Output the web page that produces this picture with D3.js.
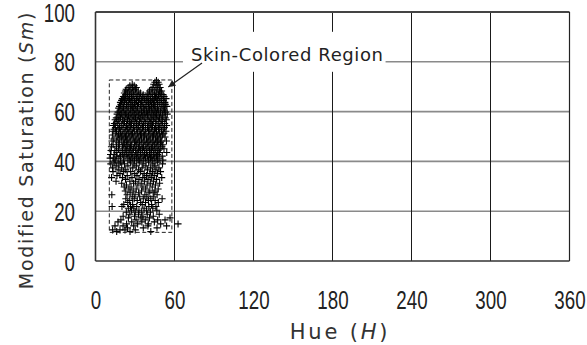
<!DOCTYPE html>
<html>
<head>
<meta charset="utf-8">
<script src="https://cdn.jsdelivr.net/npm/d3@7"></script>
<style>
  html, body { margin: 0; padding: 0; background: #fff; }
  svg { display: block; }
</style>
</head>
<body>
<svg id="chart" width="587" height="345"></svg>
<script>
// axis ticks
const hueTicks = [0, 60, 120, 180, 240, 300, 360];
const satTicks = [0, 20, 40, 60, 80, 100];

// skin-colored region bounds (H, Sm)
const regionHue = [10.5, 58];
const regionSat = [11.5, 72.7];

// measured samples, grouped by Sm level: [Sm, [H values]]
const sampleRows = [
  [72.5, [46.3]],
  [71.8, [45.1, 47.6]],
  [71.0, [27.9, 44.2, 48.3]],
  [70.4, [26.1, 29.4, 46.8]],
  [69.7, [24.8, 28.2, 31.0, 43.5, 45.9, 49.1]],
  [69.0, [23.3, 26.9, 30.3, 42.2, 47.4]],
  [68.3, [22.7, 25.6, 29.1, 32.4, 41.0, 44.6, 48.7, 50.2]],
  [67.5, [21.9, 24.4, 27.6, 30.8, 34.1, 39.7, 43.1, 46.2, 49.6]],
  [66.8, [22.9, 26.0, 28.7, 33.0, 36.2, 40.6, 44.9, 47.8, 51.3]],
  [66.0, [21.2, 24.1, 27.3, 31.7, 35.5, 38.4, 42.0, 45.6, 48.9, 52.1]],
  [65.2, [20.4, 23.0, 25.8, 29.9, 33.6, 37.1, 39.8, 43.4, 46.5, 50.0, 53.6]],
  [64.5, [19.8, 22.1, 24.9, 28.3, 31.2, 34.8, 38.9, 41.7, 44.3, 47.2, 51.5]],
  [63.7, [18.9, 21.6, 26.4, 29.6, 32.7, 36.0, 40.2, 42.8, 45.0, 48.4, 52.7]],
  [62.9, [19.3, 23.5, 27.1, 30.6, 34.3, 37.7, 41.3, 44.1, 46.9, 49.8, 53.0]],
  [62.1, [18.2, 20.8, 24.6, 28.0, 31.9, 35.2, 39.0, 42.5, 45.3, 50.6, 54.2]],
  [61.4, [17.6, 21.3, 25.3, 29.0, 32.1, 36.6, 40.4, 43.7, 47.1, 51.8]],
  [60.6, [18.7, 22.4, 26.7, 30.1, 33.8, 37.4, 41.1, 44.6, 48.0, 52.4]],
  [59.8, [17.1, 20.1, 23.8, 27.8, 31.4, 35.0, 38.6, 42.3, 45.8, 49.3, 53.3]],
  [59.0, [16.4, 19.5, 22.9, 26.2, 29.8, 33.1, 36.8, 39.4, 43.0, 46.4, 50.7, 54.5]],
  [58.3, [18.0, 21.7, 25.1, 28.6, 32.5, 35.9, 40.0, 44.2, 47.5, 51.2]],
  [57.5, [15.8, 19.0, 23.2, 27.0, 30.4, 34.0, 37.6, 41.5, 45.2, 48.6, 52.9]],
  [56.7, [14.9, 17.3, 20.6, 24.3, 28.4, 31.6, 35.3, 39.2, 42.7, 46.1, 49.9, 53.8]],
  [56.0, [16.2, 22.0, 25.9, 29.3, 33.4, 36.9, 40.8, 43.9, 47.7, 51.0]],
  [55.2, [14.3, 18.5, 21.1, 24.7, 27.4, 31.1, 34.6, 38.1, 41.9, 45.4, 49.0, 52.6]],
  [54.4, [13.6, 16.9, 19.9, 23.6, 26.5, 30.0, 32.8, 36.4, 40.1, 43.3, 46.7, 50.4, 54.0]],
  [53.6, [15.1, 18.3, 22.5, 25.5, 28.9, 32.2, 35.7, 39.5, 42.4, 45.7, 48.8, 52.3]],
  [52.9, [14.0, 17.7, 20.9, 24.2, 27.7, 31.3, 34.4, 37.9, 41.2, 44.8, 47.9, 51.4]],
  [52.1, [13.2, 16.0, 19.2, 23.1, 26.3, 29.5, 33.2, 36.7, 40.3, 43.6, 46.3, 50.1, 53.5]],
  [51.3, [15.4, 18.8, 21.8, 25.2, 28.1, 31.8, 35.1, 38.3, 42.1, 45.1, 48.5, 51.9]],
  [50.6, [12.8, 17.5, 20.3, 23.7, 27.2, 30.7, 34.2, 37.3, 40.7, 44.0, 47.3, 50.8]],
  [49.8, [16.5, 19.6, 22.8, 26.1, 29.2, 32.9, 36.3, 39.9, 43.2, 46.6, 49.5, 52.8]],
  [49.0, [13.9, 18.4, 21.5, 24.5, 28.5, 31.5, 34.9, 38.7, 41.6, 45.5, 48.2]],
  [48.2, [12.5, 15.8, 20.0, 23.4, 26.8, 30.2, 33.5, 37.0, 40.5, 43.8, 47.0, 50.3, 53.9]],
  [47.5, [17.3, 22.2, 25.4, 29.7, 32.3, 36.1, 39.3, 42.9, 46.0, 49.4]],
  [46.7, [13.4, 18.1, 21.4, 24.0, 27.5, 31.0, 34.7, 38.2, 41.4, 44.7, 48.1, 51.1]],
  [45.9, [12.1, 15.9, 20.5, 23.9, 26.6, 29.9, 33.3, 36.5, 40.0, 43.4, 46.8, 50.5]],
  [45.1, [17.4, 22.6, 25.7, 28.8, 32.6, 35.8, 39.1, 42.6, 45.9, 49.2, 52.0]],
  [44.4, [11.8, 14.7, 20.2, 23.3, 26.9, 30.5, 34.1, 37.5, 41.0, 44.4, 47.6]],
  [43.6, [16.2, 18.6, 21.7, 24.8, 28.3, 31.7, 35.4, 38.8, 42.0, 45.3, 48.7, 54.1]],
  [42.8, [11.4, 14.1, 20.7, 23.8, 27.1, 30.9, 33.9, 37.2, 40.9, 43.9, 47.2]],
  [42.1, [16.1, 19.0, 22.3, 25.6, 29.4, 32.4, 36.2, 39.6, 42.7, 46.4, 50.7]],
  [41.3, [11.1, 13.5, 17.8, 24.6, 27.9, 31.3, 34.5, 38.0, 41.8, 45.0, 48.3]],
  [40.5, [15.0, 21.2, 26.2, 29.6, 33.0, 36.7, 40.2, 43.5, 46.9, 51.2]],
  [39.7, [14.2, 19.1, 26.5, 33.2, 40.4, 47.3]],
  [39.0, [11.6, 17.8, 22.0, 29.3, 36.1, 43.6, 50.9]],
  [38.2, [15.7, 24.6, 31.0, 38.3, 45.0]],
  [37.4, [13.0, 19.9, 28.3, 35.4, 41.9, 48.2]],
  [36.6, [17.2, 23.0, 32.6, 39.5, 45.9]],
  [35.9, [13.3, 21.4, 26.7, 34.1, 43.2, 49.4]],
  [35.1, [18.6, 29.8, 37.0, 41.4, 47.1]],
  [34.3, [16.3, 24.1, 31.5, 38.8, 44.6]],
  [33.5, [12.2, 20.5, 27.7, 35.9, 42.7, 50.3]],
  [32.8, [22.8, 33.0, 39.9, 46.4]],
  [32.0, [15.6, 26.1, 30.4, 37.3, 44.0]],
  [31.2, [19.9, 28.9, 34.7, 41.6, 48.7]],
  [30.5, [23.5, 32.2, 39.2, 45.5]],
  [29.7, [21.8, 27.0, 36.0, 43.1]],
  [28.9, [25.4, 30.9, 38.1, 47.6]],
  [28.1, [22.6, 28.6, 34.9, 41.3, 45.2]],
  [27.4, [26.3, 32.8, 40.6, 44.4]],
  [26.6, [12.4, 24.0, 30.0, 37.5, 46.8]],
  [25.8, [27.9, 33.6, 39.0, 43.8]],
  [25.0, [23.0, 29.4, 36.3, 42.0, 50.6]],
  [24.3, [26.0, 31.7, 40.2, 45.3]],
  [23.5, [24.5, 34.3, 38.0, 47.7]],
  [22.7, [21.5, 28.2, 35.5, 42.6]],
  [21.9, [12.6, 20.1, 26.6, 31.3, 40.5, 45.9]],
  [21.2, [24.9, 29.1, 36.9, 43.5]],
  [20.4, [27.3, 33.0, 38.8, 46.6]],
  [19.6, [23.4, 30.2, 35.1, 41.7]],
  [18.8, [26.1, 32.7, 39.3, 48.4]],
  [18.0, [21.0, 29.6, 36.0, 43.9]],
  [17.3, [25.0, 34.5, 41.0, 56.6]],
  [16.5, [19.3, 30.8, 37.8, 47.2, 52.8]],
  [15.7, [17.1, 27.5, 35.2, 44.7]],
  [14.9, [23.6, 32.0, 40.1, 49.5, 62.7]],
  [14.1, [14.8, 20.9, 29.0, 39.8, 54.0]],
  [13.3, [24.3, 36.3, 46.7]],
  [12.5, [13.0, 18.6, 22.4, 30.2]],
  [11.8, [16.1, 26.2, 42.0]]
];

const samples = sampleRows.flatMap(([sm, hues]) => hues.map((h) => ({ h, sm })));

const plot = { left: 95.5, right: 569.5, top: 12, bottom: 261 };

const x = d3.scaleLinear().domain([0, 360]).range([plot.left, plot.right]);
const y = d3.scaleLinear().domain([0, 100]).range([plot.bottom, plot.top]);

const svg = d3.select("#chart");

// horizontal grid (gray)
svg.append("g")
  .selectAll("line")
  .data(satTicks.filter((d) => d > 0 && d < 100))
  .enter()
  .append("line")
  .attr("x1", plot.left)
  .attr("x2", plot.right)
  .attr("y1", (d) => y(d))
  .attr("y2", (d) => y(d))
  .attr("stroke", "#8a8a8a")
  .attr("stroke-width", 1.6);

// vertical grid (black)
svg.append("g")
  .selectAll("line")
  .data(hueTicks.filter((d) => d > 0 && d < 360))
  .enter()
  .append("line")
  .attr("x1", (d) => x(d))
  .attr("x2", (d) => x(d))
  .attr("y1", plot.top)
  .attr("y2", plot.bottom)
  .attr("stroke", "#1a1a1a")
  .attr("stroke-width", 1);

// frame
svg.append("line")
  .attr("x1", plot.left).attr("x2", plot.right)
  .attr("y1", plot.top).attr("y2", plot.top)
  .attr("stroke", "#444").attr("stroke-width", 2);
svg.append("line")
  .attr("x1", plot.right).attr("x2", plot.right)
  .attr("y1", plot.top).attr("y2", plot.bottom)
  .attr("stroke", "#222").attr("stroke-width", 1.2);
svg.append("line")
  .attr("x1", plot.left).attr("x2", plot.left)
  .attr("y1", plot.top).attr("y2", plot.bottom)
  .attr("stroke", "#333").attr("stroke-width", 1.6);
svg.append("line")
  .attr("x1", plot.left).attr("x2", plot.right)
  .attr("y1", plot.bottom).attr("y2", plot.bottom)
  .attr("stroke", "#333").attr("stroke-width", 1.6);

// axes (labels only)
const squeeze = 0.75;

const yAxis = svg.append("g")
  .attr("transform", `translate(${plot.left},0)`)
  .call(d3.axisLeft(y).tickValues(satTicks).tickSize(0).tickFormat(d3.format("d")));
yAxis.select(".domain").remove();
yAxis.selectAll("text")
  .attr("x", -20.5 / squeeze)
  .attr("dy", "0.36em")
  .attr("transform", `scale(${squeeze},1)`)
  .attr("fill", "#222")
  .style("font-family", "'Liberation Sans', Arial, sans-serif")
  .style("font-size", "25px");

const xAxis = svg.append("g")
  .attr("transform", `translate(0,${plot.bottom})`)
  .call(d3.axisBottom(x).tickValues(hueTicks).tickSize(0).tickFormat(d3.format("d")));
xAxis.select(".domain").remove();
xAxis.selectAll("text")
  .attr("x", 0)
  .attr("y", 48)
  .attr("dy", 0)
  .attr("transform", `scale(${squeeze},1)`)
  .attr("fill", "#222")
  .style("font-family", "'Liberation Sans', Arial, sans-serif")
  .style("font-size", "25px");

// axis titles
const titleFont = "'DejaVu Sans', Verdana, sans-serif";

const xTitle = svg.append("text")
  .attr("x", 340)
  .attr("y", 339)
  .attr("text-anchor", "middle")
  .attr("fill", "#333")
  .style("font-family", titleFont)
  .style("font-size", "21px")
  .style("letter-spacing", "2.8px");
xTitle.append("tspan").text("Hue (");
xTitle.append("tspan").style("font-style", "italic").text("H");
xTitle.append("tspan").text(")");

const yTitle = svg.append("text")
  .attr("transform", "translate(33,150) rotate(-90)")
  .attr("text-anchor", "middle")
  .attr("fill", "#333")
  .style("font-family", titleFont)
  .style("font-size", "19px")
  .style("letter-spacing", "1.7px");
yTitle.append("tspan").text("Modified Saturation (");
yTitle.append("tspan").style("font-style", "italic").text("Sm");
yTitle.append("tspan").text(")");

// samples as + marks
svg.append("g")
  .selectAll("path")
  .data(samples)
  .enter()
  .append("path")
  .attr("transform", (d) => `translate(${x(d.h)},${y(d.sm)})`)
  .attr("d", "M-3.5,0H3.5M0,-3.5V3.5")
  .attr("stroke", "#000")
  .attr("stroke-width", 1.1)
  .attr("fill", "none");

// dashed region box
svg.append("rect")
  .attr("x", x(regionHue[0]))
  .attr("y", y(regionSat[1]))
  .attr("width", x(regionHue[1]) - x(regionHue[0]))
  .attr("height", y(regionSat[0]) - y(regionSat[1]))
  .attr("fill", "none")
  .attr("stroke", "#222")
  .attr("stroke-width", 1)
  .attr("stroke-dasharray", "4,2.5");

// annotation
const note = svg.append("g");
const noteBg = note.append("rect").attr("fill", "#fff");
const noteText = note.append("text")
  .attr("x", x(72.5))
  .attr("y", y(80.4))
  .attr("fill", "#222")
  .style("font-family", titleFont)
  .style("font-size", "18px")
  .style("letter-spacing", "0.6px")
  .text("Skin-Colored Region");
const bb = noteText.node().getBBox();
noteBg
  .attr("x", bb.x - 8)
  .attr("y", bb.y - 12)
  .attr("width", bb.width + 10)
  .attr("height", bb.height + 19);

svg.append("defs").append("marker")
  .attr("id", "head")
  .attr("viewBox", "0 0 10 10")
  .attr("refX", 10)
  .attr("refY", 5)
  .attr("markerWidth", 9)
  .attr("markerHeight", 7)
  .attr("markerUnits", "userSpaceOnUse")
  .attr("orient", "auto")
  .append("path")
  .attr("d", "M0,0L10,5L0,10Z")
  .attr("fill", "#222");

svg.append("line")
  .attr("x1", x(80.9))
  .attr("y1", y(79.5))
  .attr("x2", x(55.3))
  .attr("y2", y(69.9))
  .attr("stroke", "#222")
  .attr("stroke-width", 1.2)
  .attr("marker-end", "url(#head)");
</script>
</body>
</html>
